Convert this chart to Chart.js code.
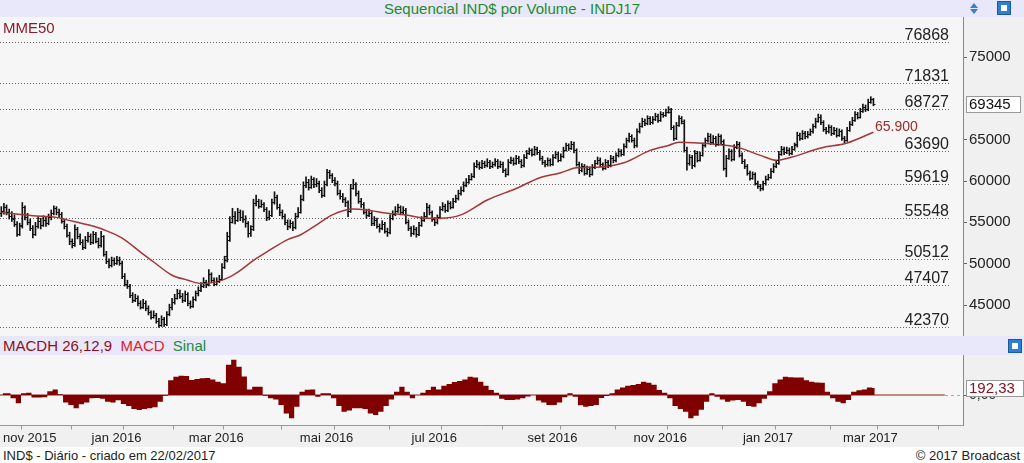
<!DOCTYPE html>
<html>
<head>
<meta charset="utf-8">
<script src="https://cdn.jsdelivr.net/npm/chart.js@4.4.1/dist/chart.umd.min.js"></script>
<style>
  body { margin: 0; width: 1024px; height: 463px; overflow: hidden; background: #fff; position: relative;
         font-family: "Liberation Sans", Arial, sans-serif; }
  .band { position: absolute; left: 0; width: 1024px; background: #e8e8fa; }
  #title { top: 0; height: 17px; color: #1e8b2d; font-size: 15px; line-height: 17px; text-align: center; }
  #mainWrap { position: absolute; left: 0; top: 17px; width: 1024px; height: 319px; background: #f6f6f6; }
  #macdHead { top: 336px; height: 19px; font-size: 15px; line-height: 19px; }
  #macdWrap { position: absolute; left: 0; top: 355px; width: 1024px; height: 92px; background: #f6f6f6; }
  .axisBg { position: absolute; left: 963px; top: 0; width: 61px; height: 100%; background: #f0f0f0; }
  #xBg { position: absolute; left: 0; top: 70px; width: 1024px; height: 22px; background: #f0f0f0; }
  canvas { position: absolute; left: 0; top: 0; }
  #mme { position: absolute; left: 3px; top: 2px; color: #8b1c2c; font-size: 15px; }
  #footL { position: absolute; left: 3px; top: 448px; font-size: 13px; color: #222; }
  #footR { position: absolute; right: 4px; top: 448px; font-size: 13px; color: #222; }
  .icon { position: absolute; width: 12px; height: 12px; background: #2f7fd0; border: 1px solid #1b5a9a; }
  .icon i { position: absolute; left: 3px; top: 3px; width: 6px; height: 6px; background: #fff; }
  .tri { position: absolute; width: 0; height: 0; border-left: 4px solid transparent; border-right: 4px solid transparent; }
</style>
</head>
<body>
<div id="title" class="band">Sequencial IND$ por Volume - INDJ17</div>
<div class="tri" style="left:970px;top:3px;border-bottom:5px solid #3b7fc4"></div>
<div class="tri" style="left:970px;top:9px;border-top:5px solid #3b7fc4"></div>
<div class="icon" style="left:997px;top:1px"><i></i></div>

<div id="mainWrap">
  <div class="axisBg"></div>
  <canvas id="mainChart" width="1024" height="319"></canvas>
  <div id="mme">MME50</div>
</div>

<div id="macdHead" class="band">
  <span style="margin-left:3px;color:#8b1020">MACDH 26,12,9</span>
  <span style="margin-left:4px;color:#e0202a">MACD</span>
  <span style="margin-left:4px;color:#1e8b3c">Sinal</span>
</div>
<div class="icon" style="left:1008px;top:339px"><i></i></div>

<div id="macdWrap">
  <div class="axisBg" style="height:70px"></div>
  <div id="xBg"></div>
  <canvas id="macdChart" width="1024" height="92"></canvas>
</div>

<div id="footL">IND$ - Diário - criado em 22/02/2017</div>
<div id="footR">© 2017 Broadcast</div>

<script>
// Daily bars, oct 2015 .. 22/02/2017 (index = trading day)
const opens = [
  56100,56400,56900,56200,55800,55400,54800,53600,54700,56800,
  55600,55000,54300,53600,54600,55200,54700,55300,54900,55600,
  56100,56700,56300,56000,55200,54600,53500,52700,52500,54200,
  53400,52600,52000,52900,53400,52600,53600,52800,52200,53300,
  51200,50300,49800,50400,50100,50500,50100,48500,47600,47300,
  46200,45600,45900,45200,44800,45300,44600,44100,43600,43800,
  43100,42600,43300,42700,43900,44700,45400,45900,46500,46100,
  45600,46300,45200,44900,45700,46400,46800,47300,47800,47500,
  48700,48000,47600,47900,48200,49600,50900,53400,55100,55800,
  55300,56200,55600,55400,54900,53700,54600,57300,57600,57000,
  57200,56600,55600,55900,57400,58100,56900,56200,55800,55100,
  54500,54900,54400,55800,56300,57800,59500,59900,59300,60200,
  59600,59800,58900,58300,59600,61100,60700,60100,59800,58600,
  58200,57800,57400,56400,59200,59600,58500,57600,57200,56300,
  55900,56100,54900,55300,54600,54300,54800,54000,53800,55500,
  56000,56400,56800,56200,56500,55100,54300,53700,54200,53600,
  54700,55300,55800,56900,56200,55400,55000,55600,56600,57000,
  56500,57300,56900,57600,57900,58500,58900,59500,59900,60300,
  60600,61800,62100,61700,62200,61900,62300,61800,62000,62400,
  61800,62100,61300,60900,62300,62600,62200,62800,62400,61900,
  62900,63400,63700,63300,63900,63500,62800,62300,62000,62500,
  62100,62900,63300,62600,63000,63800,64300,64000,64500,63700,
  62100,61300,61800,61000,61500,60900,61700,62200,62600,62000,
  61600,62300,61900,62800,62500,63100,63600,63300,64200,64900,
  65400,65000,64300,66000,66700,67300,67000,67600,67100,67500,
  67900,67400,68100,68000,68400,68300,66500,65200,66800,67600,
  67000,63800,62200,62900,61900,63400,62600,63200,64300,64900,
  65500,64700,65200,64500,65400,64500,61600,62800,63600,62700,
  64100,64500,63200,62400,61800,61000,60400,60800,59800,59400,
  59100,59700,60300,60500,61200,61800,62500,63300,63900,63500,
  63800,63400,63900,64500,65600,65200,65800,65400,65700,66000,
  66600,67300,67800,67100,66300,66000,66500,65800,66200,65600,
  66000,65200,65000,66200,66900,67400,68100,67800,68500,69000,
  68700,69600,69900
];
const highs = [
  56900,57300,57100,56600,56300,55900,55100,54900,57400,57000,
  56100,55400,54600,55000,55700,55500,55800,55600,56000,56500,
  57000,56900,56600,56200,55400,54800,53800,53000,54700,54400,
  53600,52900,53300,53800,53600,53900,53800,53100,53900,53400,
  51500,50600,50800,50700,50900,50800,50300,48800,48000,47500,
  46500,46300,46100,45500,45700,45500,44900,44300,44300,44000,
  43400,43700,43500,44200,45100,45800,46300,46900,46800,46400,
  46700,46500,45500,46000,46700,47200,47700,48300,48000,49300,
  48900,48300,48300,48600,50000,50900,53800,55700,56700,56300,
  56700,56500,56400,55800,55100,54600,57800,58300,57800,57700,
  57400,56800,56400,57800,58700,58300,57200,56500,56000,55300,
  55300,55100,56100,56800,58300,59900,60500,60200,60600,60400,
  60300,60000,59200,60000,61400,61300,60900,60400,60000,58900,
  58500,58000,57600,59600,60200,59800,58800,57900,57400,56600,
  56600,56300,55700,55500,54800,55200,55000,54300,55900,56400,
  56900,57200,57000,56900,56700,55300,54500,54600,54400,55000,
  55700,56200,57300,57100,56400,55600,55900,56900,57400,57200,
  57600,57500,57900,58300,58900,59300,59900,60300,60700,60900,
  62200,62500,62300,62500,62400,62700,62500,62300,62700,62600,
  62400,62300,61500,62600,62900,62800,63100,63000,62600,63200,
  63700,64000,63900,64200,64100,63700,63000,62500,62800,62700,
  63200,63600,63500,63300,64100,64600,64500,64800,64700,63900,
  62300,62100,62000,61800,61700,62000,62500,62900,62800,62200,
  62600,62500,63100,63000,63400,63900,63800,64500,65200,65800,
  65600,65200,66300,67000,67600,67500,67900,67800,67800,68200,
  68100,68400,68300,68700,69000,68800,66700,67100,67900,67800,
  67400,64100,63200,63100,63700,63600,63500,64600,65200,65800,
  65700,65500,65400,65700,65600,65000,63100,63900,63800,64400,
  64800,64700,63400,62600,62000,61200,61100,61000,60000,59600,
  60000,60600,60800,61500,62100,62500,63600,64200,64100,64100,
  64000,64200,64600,65900,65800,66100,66000,66000,66300,66900,
  67600,68100,68000,67300,66500,66800,66700,66500,66400,66300,
  66200,65400,66500,67200,67700,68400,68300,68800,69300,69200,
  69900,70200,70000
];
const lows = [
  55700,56000,55900,55400,55100,54500,53300,53400,54300,55300,
  54700,54000,53100,53400,54300,54200,54500,54500,54700,55300,
  55900,55900,55600,54900,54200,53200,52300,51900,52100,53000,
  52300,51700,51800,52600,52300,52400,52500,51900,52000,50900,
  50000,49500,49600,49800,49900,49800,48200,47300,47000,45900,
  45300,45400,44900,44500,44600,44300,43800,43300,43400,42800,
  42300,42400,42400,42500,43700,44400,45100,45700,45800,45300,
  45400,44900,44600,44700,45500,46100,46600,47100,47100,47300,
  47700,47300,47400,47700,48000,49400,50200,52700,54900,54800,
  55100,55200,55000,54400,53200,53300,54000,57000,56700,56800,
  56300,55200,55300,55700,57200,56600,55800,55400,54700,54100,
  54300,54000,54200,55600,56100,57600,59200,58900,59100,59200,
  59300,58600,58000,58100,59400,60300,59800,59400,58300,57800,
  57400,56900,55700,56200,59000,58200,57300,56800,56000,55500,
  55700,54600,54600,54300,53800,54100,53700,53300,53600,55300,
  55800,56200,55900,56000,54800,54000,53300,53500,53200,53400,
  54500,55100,55600,55900,55100,54600,54800,55400,56400,56200,
  56300,56600,56700,57400,57700,58300,58700,59300,59700,60100,
  60400,61600,61400,61500,61600,61700,61500,61600,61800,61500,
  61600,61000,60500,60700,62100,61900,62000,62100,61600,61700,
  62700,63200,63000,63100,63200,62500,62000,61700,61800,61800,
  61900,62700,62300,62400,62800,63600,63700,63800,63400,61800,
  60900,61100,60700,60800,60500,60700,61500,62000,61700,61300,
  61400,61600,61700,62200,62300,62900,63000,63100,64000,64700,
  64700,64000,64100,65800,66500,66700,66800,66800,66900,67300,
  67100,67200,67700,67800,68200,66200,64900,65000,66600,66900,
  63500,61300,61900,61500,61700,62300,62400,63000,64100,64700,
  64400,64500,64200,64300,64500,61300,60500,62600,62400,62500,
  63900,62900,62100,61500,60700,60100,60200,59500,59100,58800,
  58900,59500,60100,60300,61000,61600,62000,63100,63200,63300,
  63100,63200,63700,64100,64900,65000,65100,65200,65500,65800,
  66400,67100,66800,66000,65700,65800,65500,65600,65300,65400,
  64900,64600,64800,66000,66700,67200,67500,67600,68300,68400,
  68500,69400,69100
];
const closes = [
  56400,56900,56200,55800,55500,54800,53600,54500,56800,55600,
  55000,54300,53600,54600,55200,54700,55300,54900,55600,56100,
  56700,56300,56000,55200,54600,53500,52700,52300,54200,53400,
  52600,52000,52900,53400,52600,53600,52800,52200,53300,51200,
  50300,49800,50400,50100,50500,50100,48500,47600,47300,46200,
  45600,45900,45200,44800,45300,44600,44100,43600,43800,43100,
  42600,43300,42700,43900,44700,45400,45900,46500,46100,45600,
  46300,45200,44900,45700,46400,46800,47300,47800,47500,48700,
  48000,47600,47900,48200,49600,50400,52900,55100,55800,55300,
  56200,55600,55400,54900,53700,54200,57300,57600,57000,57200,
  56600,55600,55900,57400,58100,56900,56200,55800,55100,54500,
  54900,54400,55800,56300,57800,59500,59900,59300,60200,59600,
  59800,58900,58300,59600,61100,60700,60100,59800,58600,58200,
  57800,57400,56400,59200,59600,58500,57600,57200,56300,55900,
  56100,54900,55300,54600,54300,54800,54000,53800,55500,56000,
  56400,56800,56200,56500,55100,54300,53700,54200,53600,54700,
  55300,55800,56900,56200,55400,55000,55600,56600,57000,56500,
  57300,56900,57600,57900,58500,58900,59500,59900,60300,60600,
  61800,62100,61700,62200,61900,62300,61800,62000,62400,61800,
  62100,61300,60900,62300,62600,62200,62800,62400,61900,62900,
  63400,63700,63300,63900,63500,62800,62300,62000,62500,62100,
  62900,63300,62600,63000,63800,64300,64000,64500,63700,62100,
  61300,61800,61000,61500,60900,61700,62200,62600,62000,61600,
  62300,61900,62800,62500,63100,63600,63300,64200,64900,65400,
  65000,64300,66000,66700,67300,67000,67600,67100,67500,67900,
  67400,68100,68000,68400,68700,66500,65200,66800,67600,67200,
  63800,62200,62900,61900,63400,62600,63200,64300,64900,65500,
  64700,65200,64500,65400,64800,61600,62800,63600,62700,64100,
  64500,63200,62400,61800,61000,60400,60800,59800,59400,59100,
  59700,60300,60500,61200,61800,62200,63300,63900,63500,63800,
  63400,63900,64300,65600,65200,65800,65400,65700,66000,66600,
  67300,67800,67100,66300,66000,66500,65800,66200,65600,66000,
  65200,65000,66200,66900,67400,68100,67800,68500,69000,68700,
  69600,69900,69345
];

// MME50 at these bar indices
const mmeIdx = [0,12,21,25,33,39,46,53,58,65,71,76,82,87,91,96,102,109,114,121,126,134,139,147,
                154,162,167,175,185,196,205,213,219,228,237,247,254,258,270,280,289,295,301,312,322,332];
const mmeVal = [56200,55800,55600,55300,54700,54100,53100,51400,50200,48600,48000,47600,47800,48400,
                49200,50400,51600,52900,53500,54900,55900,56600,56500,56100,55900,55500,55500,55900,
                57700,59100,60400,61000,61600,61700,62200,63700,64300,64700,64500,64100,63100,62500,
                62900,64000,64600,65900];

// horizontal levels with their labels
const levels = [76868, 71831, 68727, 63690, 59619, 55548, 50512, 47407, 42370];
const priceTicks = [45000, 50000, 55000, 60000, 65000, 75000];
const lastPrice = 69345;

// MACD histogram, one value per two bars
const macdHist = [
  45,45,-90,-225,50,60,-70,-70,-60,100,
  150,20,-200,-270,-360,-250,-200,-90,-80,-100,
  -180,-200,-140,-240,-300,-380,-405,-380,-360,-330,
  -180,-20,400,490,520,510,405,430,450,460,
  420,360,315,820,950,760,500,150,225,225,
  -20,-90,-120,-270,-500,-630,-315,90,140,150,
  -45,45,45,-90,-300,-450,-420,-360,-360,-380,
  -500,-540,-450,-300,-120,90,225,90,-90,0,
  60,135,225,150,250,300,350,380,420,490,
  470,360,250,135,60,-100,-135,-135,-120,-90,
  -40,0,-150,-200,-270,-270,-200,-60,45,-45,
  -280,-315,-300,-270,-80,-30,45,150,200,250,
  270,300,360,330,280,135,60,-90,-300,-380,
  -450,-630,-560,-400,-180,45,-45,-120,-180,-150,
  -135,-180,-300,-315,-225,-100,100,315,420,490,
  480,470,470,400,360,340,330,90,-90,-180,
  -225,-135,90,130,150,200,192
];
const macdLast = 192.33;

// month ticks (bar index of first session) and labels
const monthStarts = [8,27,47,66,85,107,127,148,168,191,213,234,254,275,295,316,334,357];
const monthLabels = ['nov 2015','','jan 2016','','mar 2016','','mai 2016','','jul 2016','',
                     'set 2016','','nov 2016','','jan 2017','','mar 2017',''];

const X_MIN = -0.5, X_MAX = 366.1;
const FONT = '"Liberation Sans", Arial, sans-serif';

// fixed-width right axis with no label overhang padding
function fitAxis(s) {
    s.width = 61;
    s.paddingTop = 0;
    s.paddingBottom = 0;
}

const levelLines = {
    id: 'levelLines',
    beforeDatasetsDraw(chart) {
        const { ctx, scales: { y } } = chart;
        ctx.save();
        ctx.strokeStyle = '#666';
        ctx.lineWidth = 1;
        ctx.setLineDash([1, 2]);
        ctx.font = '16px ' + FONT;
        ctx.fillStyle = '#222';
        ctx.textAlign = 'right';
        levels.forEach(v => {
            const py = Math.round(y.getPixelForValue(v)) + 0.5;
            ctx.beginPath();
            ctx.moveTo(0, py);
            ctx.lineTo(950, py);
            ctx.stroke();
            ctx.fillText(String(v), 949, py - 3);
        });
        ctx.restore();
    }
};

const ohlcTicks = {
    id: 'ohlcTicks',
    afterDatasetsDraw(chart) {
        const { ctx, scales: { x, y } } = chart;
        ctx.save();
        ctx.strokeStyle = '#111';
        ctx.lineWidth = 1;
        ctx.beginPath();
        closes.forEach((c, i) => {
            const px = x.getPixelForValue(i);
            const po = Math.round(y.getPixelForValue(opens[i])) + 0.5;
            const pc = Math.round(y.getPixelForValue(c)) + 0.5;
            ctx.moveTo(px - 2, po); ctx.lineTo(px, po);
            ctx.moveTo(px, pc); ctx.lineTo(px + 2, pc);
        });
        ctx.stroke();
        ctx.restore();
    }
};

const priceLabels = {
    id: 'priceLabels',
    afterDraw(chart) {
        const { ctx, scales: { y } } = chart;
        ctx.save();
        // last price box on the axis
        const py = Math.round(y.getPixelForValue(lastPrice));
        ctx.fillStyle = '#fff';
        ctx.fillRect(966, py - 8, 55, 17);
        ctx.strokeStyle = '#999';
        ctx.strokeRect(966.5, py - 7.5, 54, 16);
        ctx.fillStyle = '#111';
        ctx.font = '15px ' + FONT;
        ctx.textBaseline = 'middle';
        ctx.fillText(String(lastPrice), 969, py + 1);
        // MME50 last value
        const mLast = mmeVal[mmeVal.length - 1];
        const my = y.getPixelForValue(mLast);
        ctx.fillStyle = '#9b2c2c';
        ctx.font = '14px ' + FONT;
        ctx.textBaseline = 'alphabetic';
        ctx.fillText((mLast / 1000).toFixed(3), 875, my - 1);
        ctx.restore();
    }
};

new Chart(document.getElementById('mainChart'), {
    type: 'bar',
    data: {
        datasets: [
            {
                type: 'line',
                data: mmeIdx.map((x, i) => ({ x: x, y: mmeVal[i] })),
                borderColor: '#a33636',
                borderWidth: 1.5,
                pointRadius: 0,
                cubicInterpolationMode: 'monotone',
                order: 0
            },
            {
                type: 'bar',
                data: highs.map((h, i) => ({ x: i, y: [lows[i], h] })),
                backgroundColor: '#111',
                barThickness: 1,
                order: 1
            }
        ]
    },
    options: {
        animation: false,
        responsive: false,
        layout: { padding: 0 },
        plugins: { legend: { display: false }, tooltip: { enabled: false } },
        scales: {
            x: { type: 'linear', min: X_MIN, max: X_MAX, offset: false, grid: { offset: false }, display: false },
            y: {
                position: 'right',
                min: 41250,
                max: 79840,
                afterFit: fitAxis,
                afterBuildTicks: s => { s.ticks = priceTicks.map(v => ({ value: v })); },
                ticks: { color: '#222', font: { size: 15, family: FONT }, padding: 2, callback: v => String(v) },
                grid: { drawOnChartArea: false, tickLength: 4, color: '#666' },
                border: { color: '#888' }
            }
        }
    },
    plugins: [levelLines, ohlcTicks, priceLabels]
});

const macdExtras = {
    id: 'macdExtras',
    afterDraw(chart) {
        const { ctx, chartArea, scales: { x, y } } = chart;
        ctx.save();
        const y0 = Math.round(y.getPixelForValue(0)) + 0.5;
        // dashed continuation of the zero line up to the axis
        ctx.strokeStyle = '#aaa';
        ctx.setLineDash([3, 3]);
        ctx.beginPath();
        ctx.moveTo(945, y0); ctx.lineTo(chartArea.right, y0);
        ctx.stroke();
        ctx.setLineDash([]);
        // bottom axis line, month ticks and labels
        const yb = chartArea.bottom + 0.5;
        ctx.strokeStyle = '#999';
        ctx.beginPath();
        ctx.moveTo(0, yb); ctx.lineTo(chartArea.right, yb);
        monthStarts.forEach(m => {
            const px = Math.round(x.getPixelForValue(m - 0.5)) + 0.5;
            ctx.moveTo(px, yb); ctx.lineTo(px, yb + 4);
        });
        ctx.stroke();
        ctx.fillStyle = '#222';
        ctx.font = '13px ' + FONT;
        ctx.textBaseline = 'middle';
        monthStarts.forEach((m, i) => {
            if (!monthLabels[i]) return;
            const w = ctx.measureText(monthLabels[i]).width;
            const cx = x.getPixelForValue(m - 0.5) - 7;
            ctx.fillText(monthLabels[i], Math.max(3, cx - w / 2), yb + 13);
        });
        // last histogram value box
        const py = Math.round(y.getPixelForValue(macdLast));
        ctx.fillStyle = '#fff';
        ctx.fillRect(966, py - 8, 57, 17);
        ctx.strokeStyle = '#999';
        ctx.strokeRect(966.5, py - 7.5, 57, 16);
        ctx.fillStyle = '#8b1020';
        ctx.font = '15px ' + FONT;
        ctx.fillText(macdLast.toFixed(2).replace('.', ','), 969, py + 1);
        ctx.restore();
    }
};

new Chart(document.getElementById('macdChart'), {
    type: 'line',
    data: {
        datasets: [
            {
                data: macdHist.map((v, k) => ({ x: 2 * k + 0.5, y: v })),
                stepped: 'middle',
                fill: 'origin',
                backgroundColor: '#800000',
                borderWidth: 0,
                pointRadius: 0
            },
            {
                data: [{ x: X_MIN, y: 0 }, { x: 359.2, y: 0 }],
                borderColor: '#8b1a1a',
                borderWidth: 1,
                pointRadius: 0
            }
        ]
    },
    options: {
        animation: false,
        responsive: false,
        layout: { padding: { bottom: 22 } },
        plugins: { legend: { display: false }, tooltip: { enabled: false } },
        scales: {
            x: { type: 'linear', min: X_MIN, max: X_MAX, display: false },
            y: {
                position: 'right',
                min: -810,
                max: 1080,
                afterFit: fitAxis,
                afterBuildTicks: s => { s.ticks = [{ value: 0 }]; },
                ticks: { color: '#333', font: { size: 14, family: FONT }, padding: 2, callback: () => '0,00' },
                grid: { drawOnChartArea: false, tickLength: 4, color: '#666' },
                border: { color: '#888' }
            }
        }
    },
    plugins: [macdExtras]
});
</script>
</body>
</html>
